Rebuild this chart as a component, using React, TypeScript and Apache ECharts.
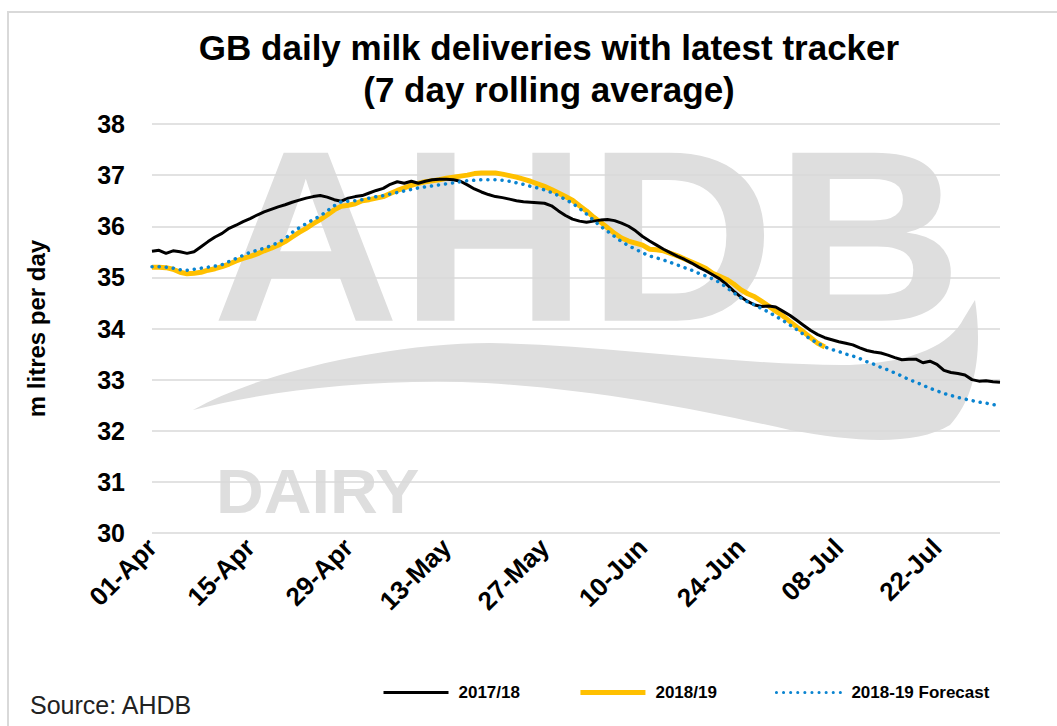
import React, { useEffect, useRef } from "react";
import * as echarts from "echarts";

// ---- data ----
const START_DAY = { year: 2018, month: 3, day: 1 }; // 01-Apr
const DAY_COUNT = 122; // 01-Apr .. 31-Jul
const MONTHS = ["Jan", "Feb", "Mar", "Apr", "May", "Jun", "Jul", "Aug", "Sep", "Oct", "Nov", "Dec"];

const y2017: number[] = [
  35.51, 35.53, 35.47, 35.52, 35.5, 35.47, 35.5, 35.6, 35.7, 35.79,
  35.86, 35.96, 36.02, 36.09, 36.15, 36.22, 36.28, 36.33, 36.38, 36.42,
  36.47, 36.51, 36.55, 36.58, 36.6, 36.57, 36.52, 36.49, 36.55, 36.58,
  36.6, 36.65, 36.7, 36.74, 36.82, 36.87, 36.84, 36.88, 36.84, 36.88,
  36.91, 36.92, 36.92, 36.91, 36.88, 36.81, 36.73, 36.67, 36.62, 36.58,
  36.56, 36.53, 36.5, 36.48, 36.47, 36.46, 36.45, 36.4, 36.3, 36.21,
  36.14, 36.1, 36.08, 36.1, 36.12, 36.13, 36.11, 36.06, 36.0, 35.91,
  35.8, 35.71, 35.63, 35.55, 35.48, 35.41, 35.35, 35.28, 35.2, 35.13,
  35.05, 34.97, 34.86, 34.73, 34.62, 34.53, 34.46, 34.43, 34.44, 34.42,
  34.34, 34.26, 34.16, 34.06, 33.96, 33.88, 33.82, 33.78, 33.74, 33.71,
  33.68, 33.62, 33.57, 33.54, 33.52, 33.48, 33.43, 33.39, 33.4, 33.4,
  33.33, 33.36, 33.3, 33.18, 33.14, 33.12, 33.09, 33.0, 32.97, 32.98,
  32.96, 32.95,
];

const y2018: number[] = [
  35.2, 35.2, 35.19, 35.16, 35.1, 35.07, 35.08, 35.1, 35.14, 35.17,
  35.21, 35.26, 35.32, 35.37, 35.41, 35.46, 35.52, 35.57, 35.63, 35.7,
  35.79, 35.88, 35.96, 36.05, 36.13, 36.22, 36.32, 36.39, 36.41, 36.44,
  36.5, 36.52, 36.55, 36.58, 36.64, 36.7, 36.75, 36.8, 36.84, 36.87,
  36.89, 36.91, 36.94, 36.96, 36.98, 37.0, 37.03, 37.04, 37.04, 37.04,
  37.02, 36.99, 36.96, 36.92, 36.88, 36.83, 36.78, 36.72, 36.65, 36.58,
  36.51, 36.4, 36.3, 36.18, 36.08, 35.97, 35.86, 35.77, 35.71, 35.67,
  35.63, 35.55, 35.54, 35.52, 35.47, 35.42, 35.36, 35.3, 35.24, 35.18,
  35.08, 35.02, 34.96, 34.87, 34.76, 34.68, 34.62, 34.53, 34.44, 34.34,
  34.25, 34.14, 34.03, 33.93, 33.82, 33.71, 33.64,
];

const yForecast: number[] = [
  35.21, 35.21, 35.2, 35.18, 35.15, 35.14, 35.16, 35.18, 35.2, 35.22,
  35.25, 35.31, 35.37, 35.43, 35.49, 35.53, 35.57, 35.62, 35.68, 35.76,
  35.88, 35.97, 36.05, 36.13, 36.2, 36.3, 36.4, 36.48, 36.49, 36.5,
  36.52, 36.55, 36.58, 36.6, 36.63, 36.66, 36.69, 36.72, 36.75, 36.77,
  36.79, 36.81, 36.83, 36.85, 36.87, 36.89, 36.9, 36.91, 36.91, 36.91,
  36.9, 36.88, 36.85, 36.82, 36.78, 36.75, 36.71, 36.66, 36.6, 36.52,
  36.45, 36.35, 36.24, 36.12, 36.0, 35.9, 35.8, 35.7, 35.62, 35.55,
  35.48, 35.42, 35.38, 35.34, 35.29, 35.24, 35.19, 35.14, 35.08, 35.03,
  34.97, 34.9, 34.8, 34.7, 34.6, 34.52, 34.46, 34.39, 34.32, 34.24,
  34.16, 34.07, 33.98, 33.88, 33.79, 33.71, 33.64, 33.59, 33.55, 33.5,
  33.46, 33.41, 33.35, 33.3, 33.24, 33.19, 33.13, 33.07, 33.0, 32.95,
  32.89, 32.83, 32.78, 32.73, 32.69, 32.65, 32.62, 32.59, 32.56, 32.54,
  32.51, 32.49,
];

const seriesNames = ["2017/18", "2018/19", "2018-19 Forecast"];
const titleText = "GB daily milk deliveries with latest tracker\n(7 day rolling average)";
const yAxisName = "m litres per day";
const sourceText = "Source: AHDB";

function buildDates(): string[] {
  const out: string[] = [];
  for (let i = 0; i < DAY_COUNT; i++) {
    const d = new Date(START_DAY.year, START_DAY.month, START_DAY.day + i);
    const dd = String(d.getDate()).padStart(2, "0");
    out.push(dd + "-" + MONTHS[d.getMonth()]);
  }
  return out;
}

const SWOOSH =
  "M193,410 C260,372 390,343 490,343 C610,345 740,366 850,365 C915,362 950,345 964,318 L975,300 C982,345 978,395 950,425 C915,446 855,442 790,430 C700,410 600,390 486,383 C380,378 270,390 193,410 Z";

let registered = false;

export default function App() {
  const ref = useRef<HTMLDivElement>(null);

  useEffect(() => {
    document.body.style.margin = "0";
    if (!registered) {
      echarts.graphic.registerShape("swoosh", echarts.graphic.extendPath(SWOOSH, {}));
      registered = true;
    }
    const chart = echarts.init(ref.current!, null, { renderer: "svg" });
    const dates = buildDates();
    const font = "'Liberation Sans', Arial, sans-serif";
    const wm = "#dedede";

    chart.setOption({
      animation: false,
      backgroundColor: "#ffffff",
      textStyle: { fontFamily: font },
      title: {
        text: titleText,
        left: 544,
        top: 21,
        textAlign: "center",
        textStyle: { fontSize: 35, fontWeight: "bold", color: "#000", lineHeight: 42, fontFamily: font },
      },
      graphic: [
        {
          type: "rect",
          z: -20,
          silent: true,
          shape: { x: 8, y: 12, width: 1070, height: 730 },
          style: { fill: "none", stroke: "#d9d9d9", lineWidth: 2 },
        },
        {
          type: "text",
          z: -10,
          silent: true,
          x: 212,
          y: 236,
          scaleX: 1.065,
          style: {
            text: "AHDB",
            fontSize: 244,
            fontWeight: "bold",
            fontFamily: font,
            fill: wm,
            textAlign: "left",
            textVerticalAlign: "middle",
          },
        },
        {
          type: "text",
          z: -10,
          silent: true,
          x: 216,
          y: 492,
          scaleX: 1.05,
          style: {
            text: "DAIRY",
            fontSize: 63,
            fontWeight: "bold",
            fontFamily: font,
            fill: wm,
            textAlign: "left",
            textVerticalAlign: "middle",
          },
        },
        {
          type: "swoosh",
          z: -10,
          silent: true,
          x: 0,
          y: 0,
          style: { fill: wm },
        },
        {
          type: "text",
          x: 30,
          y: 705,
          style: {
            text: sourceText,
            fontSize: 25,
            fontFamily: font,
            fill: "#222",
            textAlign: "left",
            textVerticalAlign: "middle",
          },
        },
      ],
      legend: {
        left: 377,
        top: 679,
        itemWidth: 65,
        itemHeight: 12,
        itemGap: 58,
        itemStyle: { opacity: 0 },
        data: [
          { name: seriesNames[0], lineStyle: { width: 3 } },
          { name: seriesNames[1], lineStyle: { width: 5 } },
          { name: seriesNames[2], lineStyle: { width: 3 } },
        ],
        textStyle: { fontSize: 17, fontWeight: "bold", color: "#000", fontFamily: font, padding: [0, 0, 0, 5] },
      },
      grid: { left: 152, right: 57, top: 124, bottom: 193, containLabel: false },
      xAxis: {
        type: "category",
        data: dates,
        boundaryGap: false,
        axisLine: { show: false },
        axisTick: { show: false },
        axisLabel: {
          interval: 13,
          rotate: 45,
          margin: 10,
          fontSize: 26,
          fontWeight: "bold",
          color: "#000",
          fontFamily: font,
        },
      },
      yAxis: {
        type: "value",
        min: 30,
        max: 38,
        interval: 1,
        name: yAxisName,
        nameLocation: "middle",
        nameGap: 104,
        nameTextStyle: { fontSize: 24, fontWeight: "bold", color: "#000", fontFamily: font },
        axisLine: { show: false },
        axisTick: { show: false },
        axisLabel: { fontSize: 25, fontWeight: "bold", color: "#000", margin: 27, fontFamily: font },
        splitLine: { lineStyle: { color: "#d9d9d9", width: 1.5 } },
      },
      series: [
        {
          name: seriesNames[0],
          type: "line",
          data: y2017,
          symbol: "none",
          z: 3,
          lineStyle: { color: "#000000", width: 3 },
          itemStyle: { color: "#000000" },
        },
        {
          name: seriesNames[1],
          type: "line",
          data: y2018,
          symbol: "none",
          z: 2,
          lineStyle: { color: "#FFC000", width: 5 },
          itemStyle: { color: "#FFC000" },
        },
        {
          name: seriesNames[2],
          type: "line",
          data: yForecast,
          symbol: "none",
          z: 4,
          lineStyle: { color: "#0A84D0", width: 3.5, type: [0.1, 7], cap: "round" },
          itemStyle: { color: "#0A84D0" },
        },
      ],
    });

    return () => {
      chart.dispose();
    };
  }, []);

  return <div ref={ref} style={{ width: 1057, height: 726 }} />;
}
